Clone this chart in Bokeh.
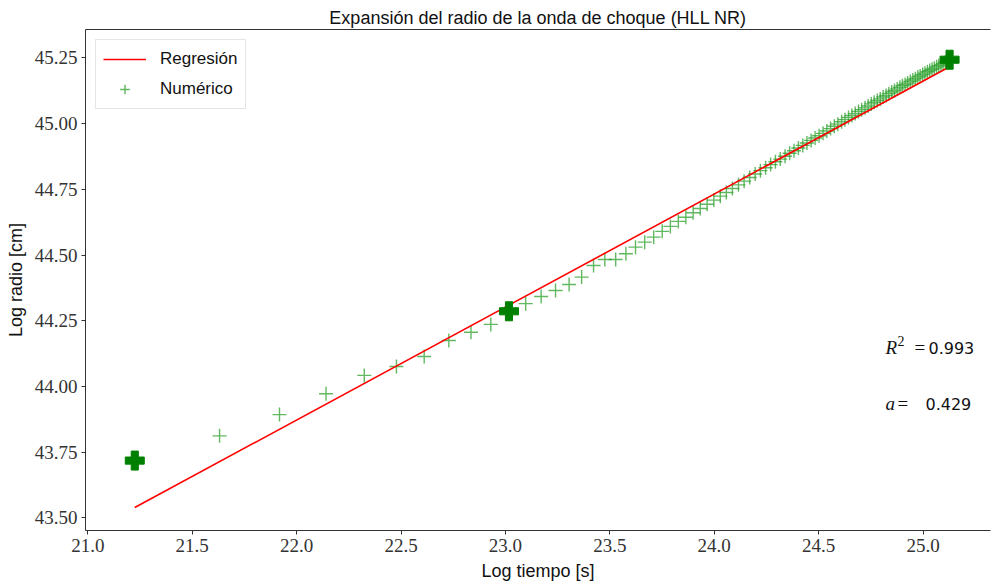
from bokeh.plotting import figure
from bokeh.models import (Range1d, FixedTicker, Legend, LegendItem, Label,
                          ColumnDataSource, LinearAxis)
from bokeh.embed import file_html
from bokeh.resources import INLINE

# ---------------- data ----------------
log_t = [21.225, 21.631, 21.918, 22.141, 22.324, 22.478, 22.611, 22.729, 22.835, 22.930,
         23.017, 23.097, 23.171, 23.240, 23.305, 23.365, 23.422, 23.476, 23.528, 23.577,
         23.623, 23.667, 23.710, 23.751, 23.790, 23.828, 23.864, 23.899, 23.933, 23.966,
         23.998, 24.029, 24.058, 24.087, 24.116, 24.143, 24.170, 24.196, 24.221, 24.246,
         24.270, 24.293, 24.316, 24.339, 24.361, 24.382, 24.403, 24.424, 24.444, 24.464,
         24.483, 24.502, 24.521, 24.539, 24.557, 24.575, 24.592, 24.610, 24.626, 24.643,
         24.659, 24.675, 24.691, 24.706, 24.722, 24.737, 24.752, 24.766, 24.781, 24.795,
         24.809, 24.823, 24.836, 24.850, 24.863, 24.876, 24.889, 24.901, 24.914, 24.926,
         24.939, 24.951, 24.963, 24.975, 24.986, 24.998, 25.009, 25.021, 25.032, 25.043,
         25.054, 25.065, 25.075, 25.086, 25.096, 25.107, 25.117, 25.127]

log_r = [43.718, 43.812, 43.893, 43.972, 44.042, 44.076, 44.114, 44.175, 44.206, 44.236,
         44.286, 44.315, 44.342, 44.365, 44.388, 44.416, 44.460, 44.483, 44.483, 44.505,
         44.530, 44.549, 44.568, 44.590, 44.609, 44.628, 44.644, 44.661, 44.677, 44.693,
         44.709, 44.724, 44.738, 44.753, 44.767, 44.781, 44.795, 44.808, 44.821, 44.832,
         44.844, 44.855, 44.865, 44.876, 44.887, 44.897, 44.907, 44.917, 44.926, 44.936,
         44.945, 44.954, 44.963, 44.972, 44.981, 44.990, 44.998, 45.007, 45.015, 45.023,
         45.031, 45.038, 45.046, 45.053, 45.060, 45.067, 45.075, 45.081, 45.088, 45.094,
         45.101, 45.107, 45.114, 45.120, 45.126, 45.132, 45.138, 45.144, 45.149, 45.154,
         45.160, 45.166, 45.171, 45.177, 45.181, 45.187, 45.192, 45.197, 45.202, 45.207,
         45.211, 45.216, 45.220, 45.225, 45.229, 45.234, 45.238, 45.243]

highlight_idx = [0, 10, 97]          # points drawn with the big filled plus

reg_slope = 0.4297                   # a
reg_intercept = 34.419               # b
r2_text = "0.993"
a_text = "0.429"

x_ticks = [21.0, 21.5, 22.0, 22.5, 23.0, 23.5, 24.0, 24.5, 25.0]
x_tick_labels = ["21.0", "21.5", "22.0", "22.5", "23.0", "23.5", "24.0", "24.5", "25.0"]
y_ticks = [43.50, 43.75, 44.00, 44.25, 44.50, 44.75, 45.00, 45.25]
y_tick_labels = ["43.50", "43.75", "44.00", "44.25", "44.50", "44.75", "45.00", "45.25"]

# ---------------- figure ----------------
SANS = "Liberation Sans"
SERIF = "Liberation Serif"

p = figure(width=991, height=588,
           x_range=Range1d(20.989, 25.323), y_range=Range1d(43.452, 45.358),
           output_backend="svg", toolbar_location=None,
           min_border_left=85, min_border_right=1, min_border_top=29, min_border_bottom=58)
p.background_fill_color = "white"
p.border_fill_color = "white"
p.outline_line_color = None
p.xgrid.visible = False
p.ygrid.visible = False

p.title.text = "Expansión del radio de la onda de choque (HLL NR)"
p.title.align = "center"
p.title.text_font = SANS
p.title.text_font_size = "18px"
p.title.text_font_style = "normal"
p.title.text_color = "#111111"
p.title.standoff = 4

for ax in (p.xaxis[0], p.yaxis[0]):
    ax.major_label_text_font = SERIF
    ax.major_label_text_font_size = "19px"
    ax.major_label_text_color = "#333333"
    ax.axis_label_text_font = SANS
    ax.axis_label_text_font_size = "18px"
    ax.axis_label_text_font_style = "normal"
    ax.axis_label_text_color = "#111111"
    ax.axis_line_color = "#333333"
    ax.major_tick_line_color = "#333333"
    ax.major_tick_out = 4
    ax.major_tick_in = 0
    ax.minor_tick_line_color = None
    ax.major_label_standoff = 4

p.xaxis[0].ticker = FixedTicker(ticks=x_ticks)
p.xaxis[0].major_label_overrides = {t: l for t, l in zip(x_ticks, x_tick_labels)}
p.yaxis[0].ticker = FixedTicker(ticks=y_ticks)
p.yaxis[0].major_label_overrides = {t: l for t, l in zip(y_ticks, y_tick_labels)}
p.xaxis[0].axis_label = "Log tiempo [s]"
p.yaxis[0].axis_label = "Log radio [cm]"
p.xaxis[0].axis_label_standoff = 6
p.yaxis[0].axis_label_standoff = 6

# top spine only (the right side of the axes box is cut off in the original)
top_spine = LinearAxis(ticker=FixedTicker(ticks=[]), axis_line_color="#333333",
                       major_tick_line_color=None, minor_tick_line_color=None,
                       major_label_text_font_size="0px", major_label_standoff=0,
                       major_tick_out=0, minor_tick_out=0)
p.add_layout(top_spine, "above")

# ---------------- glyphs ----------------
src = ColumnDataSource(dict(x=log_t, y=log_r))
num = p.scatter("x", "y", source=src, marker="cross", size=14,
                line_color="#2ca02c", line_alpha=0.75, line_width=1.4)

reg_x = [log_t[0], log_t[-1]]
reg_y = [reg_intercept + reg_slope * v for v in reg_x]
reg = p.line(reg_x, reg_y, line_color="red", line_width=1.6)

hx = [log_t[i] for i in highlight_idx]
hy = [log_r[i] for i in highlight_idx]
p.scatter(hx, hy, marker="plus", size=19, fill_color="green", line_color="green")

legend = Legend(items=[LegendItem(label="Regresión", renderers=[reg]),
                       LegendItem(label="Numérico", renderers=[num])],
                location="top_left")
legend.label_text_font = SANS
legend.label_text_font_size = "17px"
legend.label_text_color = "#111111"
legend.glyph_width = 43
legend.glyph_height = 24
legend.label_height = 24
legend.spacing = 6
legend.padding = 7
legend.margin = 10
legend.label_standoff = 14
legend.border_line_color = "#cccccc"
legend.background_fill_alpha = 0.8
p.add_layout(legend)

# ---------------- annotations ----------------
ax_, ay_r2, ay_a = 24.82, 44.148, 43.935
p.add_layout(Label(x=ax_, y=ay_r2, text="R", text_font=SERIF, text_font_style="italic",
                   text_font_size="19px", text_color="#111111", text_baseline="alphabetic"))
p.add_layout(Label(x=ax_, y=ay_r2, x_offset=12, y_offset=7, text="2", text_font=SERIF,
                   text_font_size="14px", text_color="#111111", text_baseline="alphabetic"))
p.add_layout(Label(x=ax_, y=ay_r2, x_offset=29, text="=", text_font=SERIF,
                   text_font_size="19px", text_color="#111111", text_baseline="alphabetic"))
p.add_layout(Label(x=ax_, y=ay_r2, x_offset=43, text=r2_text, text_font="DejaVu Sans",
                   text_font_size="16px", text_color="#111111", text_baseline="alphabetic"))

p.add_layout(Label(x=ax_, y=ay_a, text="a", text_font=SERIF, text_font_style="italic",
                   text_font_size="19px", text_color="#111111", text_baseline="alphabetic"))
p.add_layout(Label(x=ax_, y=ay_a, x_offset=12, text="=", text_font=SERIF,
                   text_font_size="19px", text_color="#111111", text_baseline="alphabetic"))
p.add_layout(Label(x=ax_, y=ay_a, x_offset=40, text=a_text, text_font="DejaVu Sans",
                   text_font_size="16px", text_color="#111111", text_baseline="alphabetic"))

open("out.html", "w").write(file_html(p, INLINE))
